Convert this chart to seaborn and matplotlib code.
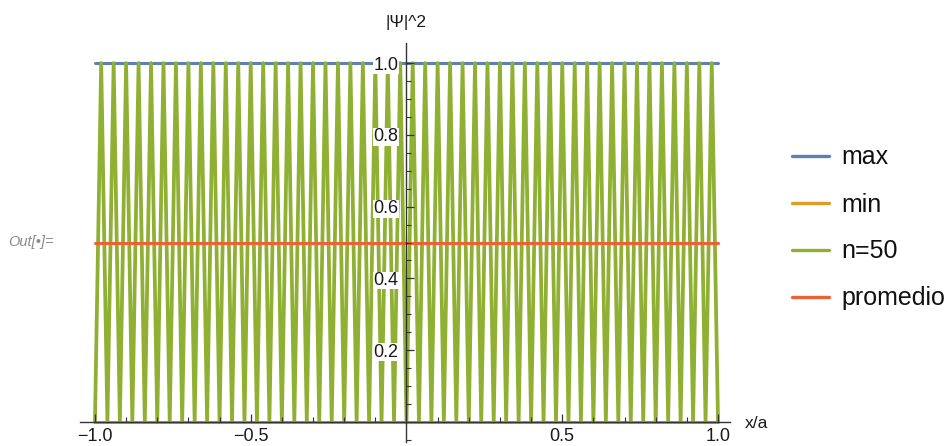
import matplotlib
matplotlib.use("Agg")
import matplotlib.pyplot as plt
import seaborn as sns
import pandas as pd
from matplotlib.ticker import FixedLocator

# Nodes (|psi|^2 = 0) and antinodes (|psi|^2 = 1) of the n=50 state, in units of x/a
node_x = [-1.00, -0.96, -0.92, -0.88, -0.84, -0.80, -0.76, -0.72, -0.68, -0.64,
          -0.60, -0.56, -0.52, -0.48, -0.44, -0.40, -0.36, -0.32, -0.28, -0.24,
          -0.20, -0.16, -0.12, -0.08, -0.04, 0.00, 0.04, 0.08, 0.12, 0.16,
          0.20, 0.24, 0.28, 0.32, 0.36, 0.40, 0.44, 0.48, 0.52, 0.56,
          0.60, 0.64, 0.68, 0.72, 0.76, 0.80, 0.84, 0.88, 0.92, 0.96, 1.00]
peak_x = [-0.98, -0.94, -0.90, -0.86, -0.82, -0.78, -0.74, -0.70, -0.66, -0.62,
          -0.58, -0.54, -0.50, -0.46, -0.42, -0.38, -0.34, -0.30, -0.26, -0.22,
          -0.18, -0.14, -0.10, -0.06, -0.02, 0.02, 0.06, 0.10, 0.14, 0.18,
          0.22, 0.26, 0.30, 0.34, 0.38, 0.42, 0.46, 0.50, 0.54, 0.58,
          0.62, 0.66, 0.70, 0.74, 0.78, 0.82, 0.86, 0.90, 0.94, 0.98]
node_y = 0.0
peak_y = 1.0

# Reference levels
level_names = ["max", "min", "promedio"]
level_values = [1.0, 0.0, 0.5]
x_range = [-1.0, 1.0]

series_order = ["max", "min", "n=50", "promedio"]
series_colors = {"max": "#5E81B5", "min": "#E19C24",
                 "n=50": "#8FB032", "promedio": "#EB6235"}

x_major = [-1.0, -0.5, 0.5, 1.0]
x_labels = ["\u22121.0", "\u22120.5", "0.5", "1.0"]
y_major = [0.2, 0.4, 0.6, 0.8, 1.0]
y_labels = ["0.2", "0.4", "0.6", "0.8", "1.0"]

# Build long-form table
rows = []
for name, val in zip(level_names, level_values):
    for xv in x_range:
        rows.append({"x": xv, "y": val, "curva": name})
wave = []
for i, xv in enumerate(node_x):
    wave.append((xv, node_y))
    if i < len(peak_x):
        wave.append((peak_x[i], peak_y))
for xv, yv in wave:
    rows.append({"x": xv, "y": yv, "curva": "n=50"})
df = pd.DataFrame(rows)

sns.set_style("white")
plt.rcParams["font.family"] = ["Liberation Sans", "DejaVu Sans"]

fig = plt.figure(figsize=(9.47, 4.46), dpi=100)
ax = fig.add_axes([80 / 947, 1 - 441.7 / 446, 650 / 947, (441.7 - 43) / 446])

sns.lineplot(data=df, x="x", y="y", hue="curva", hue_order=series_order,
             palette=series_colors, estimator=None, sort=False,
             linewidth=2.2, ax=ax, legend=True)
# the oscillating curve is drawn a bit heavier
for line in ax.get_lines():
    if len(line.get_xdata()) > 2:
        line.set_linewidth(2.7)

ax.set_axisbelow(False)
ax.set_xlim(-1.048, 1.0385)
ax.set_ylim(-0.055, 1.056)

# Axes crossing at the origin
for side in ["top", "right"]:
    ax.spines[side].set_visible(False)
ax.spines["left"].set_position(("data", 0))
ax.spines["bottom"].set_position(("data", 0))
for side in ["left", "bottom"]:
    ax.spines[side].set_color("#333333")
    ax.spines[side].set_linewidth(1.0)

ax.xaxis.set_major_locator(FixedLocator(x_major))
ax.set_xticklabels(x_labels)
minor_x = [round(-1.0 + 0.1 * k, 2) for k in range(21)]
minor_x = [v for v in minor_x if all(abs(v - m) > 1e-6 for m in x_major) and abs(v) > 1e-6]
ax.xaxis.set_minor_locator(FixedLocator(minor_x))

ax.yaxis.set_major_locator(FixedLocator(y_major))
ax.set_yticklabels(y_labels)
minor_y = [round(-0.05 + 0.05 * k, 2) for k in range(22)]
minor_y = [v for v in minor_y if all(abs(v - m) > 1e-6 for m in y_major) and abs(v) > 1e-6]
ax.yaxis.set_minor_locator(FixedLocator(minor_y))

ax.tick_params(axis="both", which="both", direction="in", color="#333333",
               labelsize=13, labelcolor="#1a1a1a")
ax.tick_params(axis="x", which="both", bottom=True, top=False)
ax.tick_params(axis="y", which="both", left=True, right=False)
ax.tick_params(axis="both", which="major", length=6, width=0.9)
ax.tick_params(axis="both", which="minor", length=3.5, width=0.8)
ax.tick_params(axis="x", which="major", pad=4)
ax.tick_params(axis="y", which="major", pad=6)
for lbl in ax.get_yticklabels() + ax.get_xticklabels():
    lbl.set_bbox(dict(facecolor="white", edgecolor="none", pad=0.3))

ax.set_xlabel("")
ax.set_ylabel("")
fig.text(745 / 947, 1 - 423 / 446, "x/a", fontsize=12.5, ha="left", va="center",
         color="#1a1a1a")
fig.text(406 / 947, 1 - 23 / 446, "|\u03a8|^2", fontsize=12.5, ha="center", va="center",
         color="#1a1a1a")
fig.text(8 / 947, 1 - 242 / 446, "Out[\u2022]=", fontsize=10.5, style="italic",
         color="#8a8a8a", ha="left", va="center")

handles, labels = ax.get_legend_handles_labels()
pairs = [(h, l) for h, l in zip(handles, labels) if l in series_order]
for h, _ in pairs:
    h.set_linewidth(2.4)
leg = ax.legend([h for h, _ in pairs], [l for _, l in pairs],
                loc="center left", bbox_to_anchor=(792 / 947, 1 - 228 / 446),
                bbox_transform=fig.transFigure, frameon=False, fontsize=18,
                handlelength=1.48, handletextpad=0.5, labelspacing=0.92,
                borderpad=0, borderaxespad=0)
for t in leg.get_texts():
    t.set_color("#111111")

fig.savefig("out.png", dpi=100)
